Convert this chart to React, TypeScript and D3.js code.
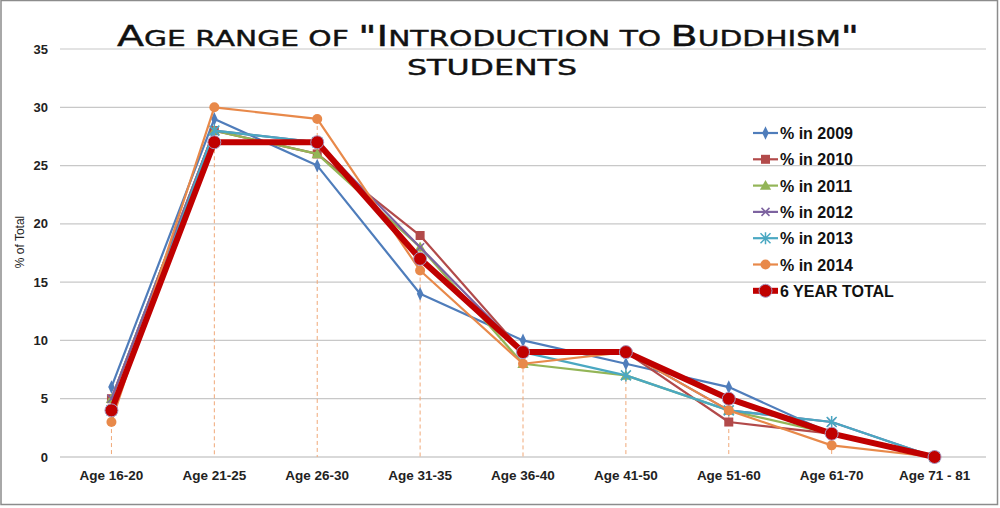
import React, { useEffect, useRef } from 'react';
import * as d3 from 'd3';

const categories = ['Age 16-20', 'Age 21-25', 'Age 26-30', 'Age 31-35', 'Age 36-40', 'Age 41-50', 'Age 51-60', 'Age 61-70', 'Age 71 - 81'];
const pct2009 = [6, 29, 25, 14, 10, 8, 6, 2, 0];
const pct2010 = [5, 28, 26, 19, 9, 9, 3, 2, 0];
const pct2011 = [5, 28, 26, 18, 8, 7, 4, 2, 0];
const pct2012 = [5, 28, 27, 18, 9, 9, 4, 3, 0];
const pct2013 = [4, 28, 27, 17, 9, 7, 4, 3, 0];
const pct2014 = [3, 30, 29, 16, 8, 9, 4, 1, 0];
const sixYearTotal = [4, 27, 27, 17, 9, 9, 5, 2, 0];
const yTicks = [0, 5, 10, 15, 20, 25, 30, 35];

const series = [
  { name: '% in 2009', values: pct2009, color: '#4f7dbb', marker: 'diamond' },
  { name: '% in 2010', values: pct2010, color: '#b24a4a', marker: 'square' },
  { name: '% in 2011', values: pct2011, color: '#93b557', marker: 'triangle' },
  { name: '% in 2012', values: pct2012, color: '#7d63a0', marker: 'x' },
  { name: '% in 2013', values: pct2013, color: '#4aa8c2', marker: 'star' },
  { name: '% in 2014', values: pct2014, color: '#e8894a', marker: 'circle' },
  { name: '6 YEAR TOTAL', values: sixYearTotal, color: '#c00000', marker: 'big' },
];

const W = 1000;
const H = 508;

function drawMarker(g: any, type: string, x: number, y: number, color: string) {
  if (type === 'diamond') {
    g.append('path').attr('d', d3.symbol(d3.symbolDiamond, 45)()).attr('transform', `translate(${x},${y}) scale(0.9,1.1)`).attr('fill', color);
  } else if (type === 'square') {
    g.append('rect').attr('x', x - 4.5).attr('y', y - 4.5).attr('width', 9).attr('height', 9).attr('fill', color);
  } else if (type === 'triangle') {
    g.append('path').attr('d', d3.symbol(d3.symbolTriangle, 55)()).attr('transform', `translate(${x},${y + 1})`).attr('fill', color);
  } else if (type === 'x') {
    g.append('path').attr('d', `M${x - 4},${y - 4}L${x + 4},${y + 4}M${x - 4},${y + 4}L${x + 4},${y - 4}`).attr('stroke', color).attr('stroke-width', 1.5);
  } else if (type === 'star') {
    g.append('path')
      .attr('d', `M${x - 5},${y - 5}L${x + 5},${y + 5}M${x - 5},${y + 5}L${x + 5},${y - 5}M${x},${y - 6}L${x},${y + 6}`)
      .attr('stroke', color).attr('stroke-width', 1.5);
  } else if (type === 'circle') {
    g.append('circle').attr('cx', x).attr('cy', y).attr('r', 5).attr('fill', color);
  } else {
    g.append('circle').attr('cx', x).attr('cy', y).attr('r', 6.5).attr('fill', color).attr('stroke', '#a898c0').attr('stroke-width', 1);
  }
}

// fake small caps: capitals big, everything else upper-cased and smaller
function smallCaps(textSel: any, str: string, big: number, small: number) {
  const runs: { t: string; big: boolean }[] = [];
  for (const ch of str) {
    const isBig = /[A-Z"]/.test(ch);
    const last = runs[runs.length - 1];
    if (last && last.big === isBig) last.t += ch;
    else runs.push({ t: ch, big: isBig });
  }
  runs.forEach((r) => {
    textSel.append('tspan').attr('font-size', r.big ? big : small).text(r.t.toUpperCase());
  });
}

const App = () => {
  const svgRef = useRef<SVGSVGElement>(null);

  useEffect(() => {
    const svg = d3.select(svgRef.current);
    svg.selectAll('*').remove();

    svg.append('rect').attr('x', 1).attr('y', 0.5).attr('width', 996.5).attr('height', 504).attr('fill', '#fff').attr('stroke', '#8c8c8c').attr('stroke-width', 1.5);

    const x = d3.scaleBand().domain(categories).range([60, 986]);
    const y = d3.scaleLinear().domain([0, 35]).range([457, 49]);
    const cx = (c: string) => (x(c) as number) + x.bandwidth() / 2;

    // gridlines
    svg.append('g').selectAll('line').data(yTicks).join('line')
      .attr('x1', 60).attr('x2', 986)
      .attr('y1', (d) => y(d)).attr('y2', (d) => y(d))
      .attr('stroke', (d) => (d === 0 ? '#b4b4b4' : '#c8c8c8')).attr('stroke-width', 1.2);

    svg.append('g').selectAll('text').data(yTicks).join('text')
      .attr('x', 48).attr('y', (d) => y(d) + 4.5)
      .attr('text-anchor', 'end').attr('font-family', 'Liberation Sans, Arial, sans-serif')
      .attr('font-weight', 'bold').attr('font-size', 13).attr('fill', '#222')
      .text((d) => d);

    svg.append('text')
      .attr('transform', 'translate(24,242) rotate(-90)')
      .attr('text-anchor', 'middle').attr('font-family', 'Liberation Sans, Arial, sans-serif')
      .attr('font-size', 12).attr('fill', '#222').text('% of Total');

    svg.append('g').selectAll('text').data(categories).join('text')
      .attr('x', (d) => cx(d)).attr('y', 480)
      .attr('text-anchor', 'middle').attr('font-family', 'Liberation Sans, Arial, sans-serif')
      .attr('font-weight', 'bold').attr('font-size', 13.5).attr('fill', '#222')
      .text((d) => d);

    // drop lines
    svg.append('g').selectAll('line').data(categories).join('line')
      .attr('x1', (d) => cx(d)).attr('x2', (d) => cx(d))
      .attr('y1', (d, i) => y(d3.max(series, (s) => s.values[i]) as number)).attr('y2', y(0))
      .attr('stroke', '#f0a878').attr('stroke-width', 1).attr('stroke-dasharray', '4,3');

    const line = d3.line<number>().x((d, i) => cx(categories[i])).y((d) => y(d));

    series.forEach((s) => {
      const g = svg.append('g');
      g.append('path').attr('d', line(s.values)).attr('fill', 'none')
        .attr('stroke', s.color).attr('stroke-width', s.marker === 'big' ? 6 : 2.2)
        .attr('stroke-linejoin', 'round');
      s.values.forEach((v, i) => drawMarker(g, s.marker, cx(categories[i]), y(v), s.color));
    });

    // legend
    const lg = svg.append('g');
    series.forEach((s, i) => {
      const ly = 133 + i * 26.3;
      lg.append('line').attr('x1', 753).attr('x2', 778).attr('y1', ly).attr('y2', ly)
        .attr('stroke', s.color).attr('stroke-width', s.marker === 'big' ? 6 : 2.2);
      drawMarker(lg, s.marker, 765.5, ly, s.color);
      lg.append('text').attr('x', 780).attr('y', ly + 6)
        .attr('font-family', 'Liberation Sans, Arial, sans-serif').attr('font-weight', 'bold')
        .attr('font-size', 16).attr('fill', '#111').text(s.name);
    });

    // title
    const t1 = svg.append('text').attr('x', 488).attr('y', 46)
      .attr('text-anchor', 'middle').attr('font-family', 'DejaVu Sans, sans-serif')
      .attr('fill', '#111').attr('stroke', '#111').attr('stroke-width', 0.4)
      .attr('textLength', 742).attr('lengthAdjust', 'spacingAndGlyphs');
    smallCaps(t1, 'Age range of "Introduction to Buddhism"', 28, 21);
    const t2 = svg.append('text').attr('x', 492).attr('y', 75)
      .attr('text-anchor', 'middle').attr('font-family', 'DejaVu Sans, sans-serif')
      .attr('fill', '#111').attr('stroke', '#111').attr('stroke-width', 0.4)
      .attr('textLength', 170).attr('lengthAdjust', 'spacingAndGlyphs');
    smallCaps(t2, 'students', 28, 21);
  }, []);

  return (
    <svg ref={svgRef} width={W} height={H} style={{ position: 'absolute', left: 0, top: 0 }} />
  );
};

export default App;
